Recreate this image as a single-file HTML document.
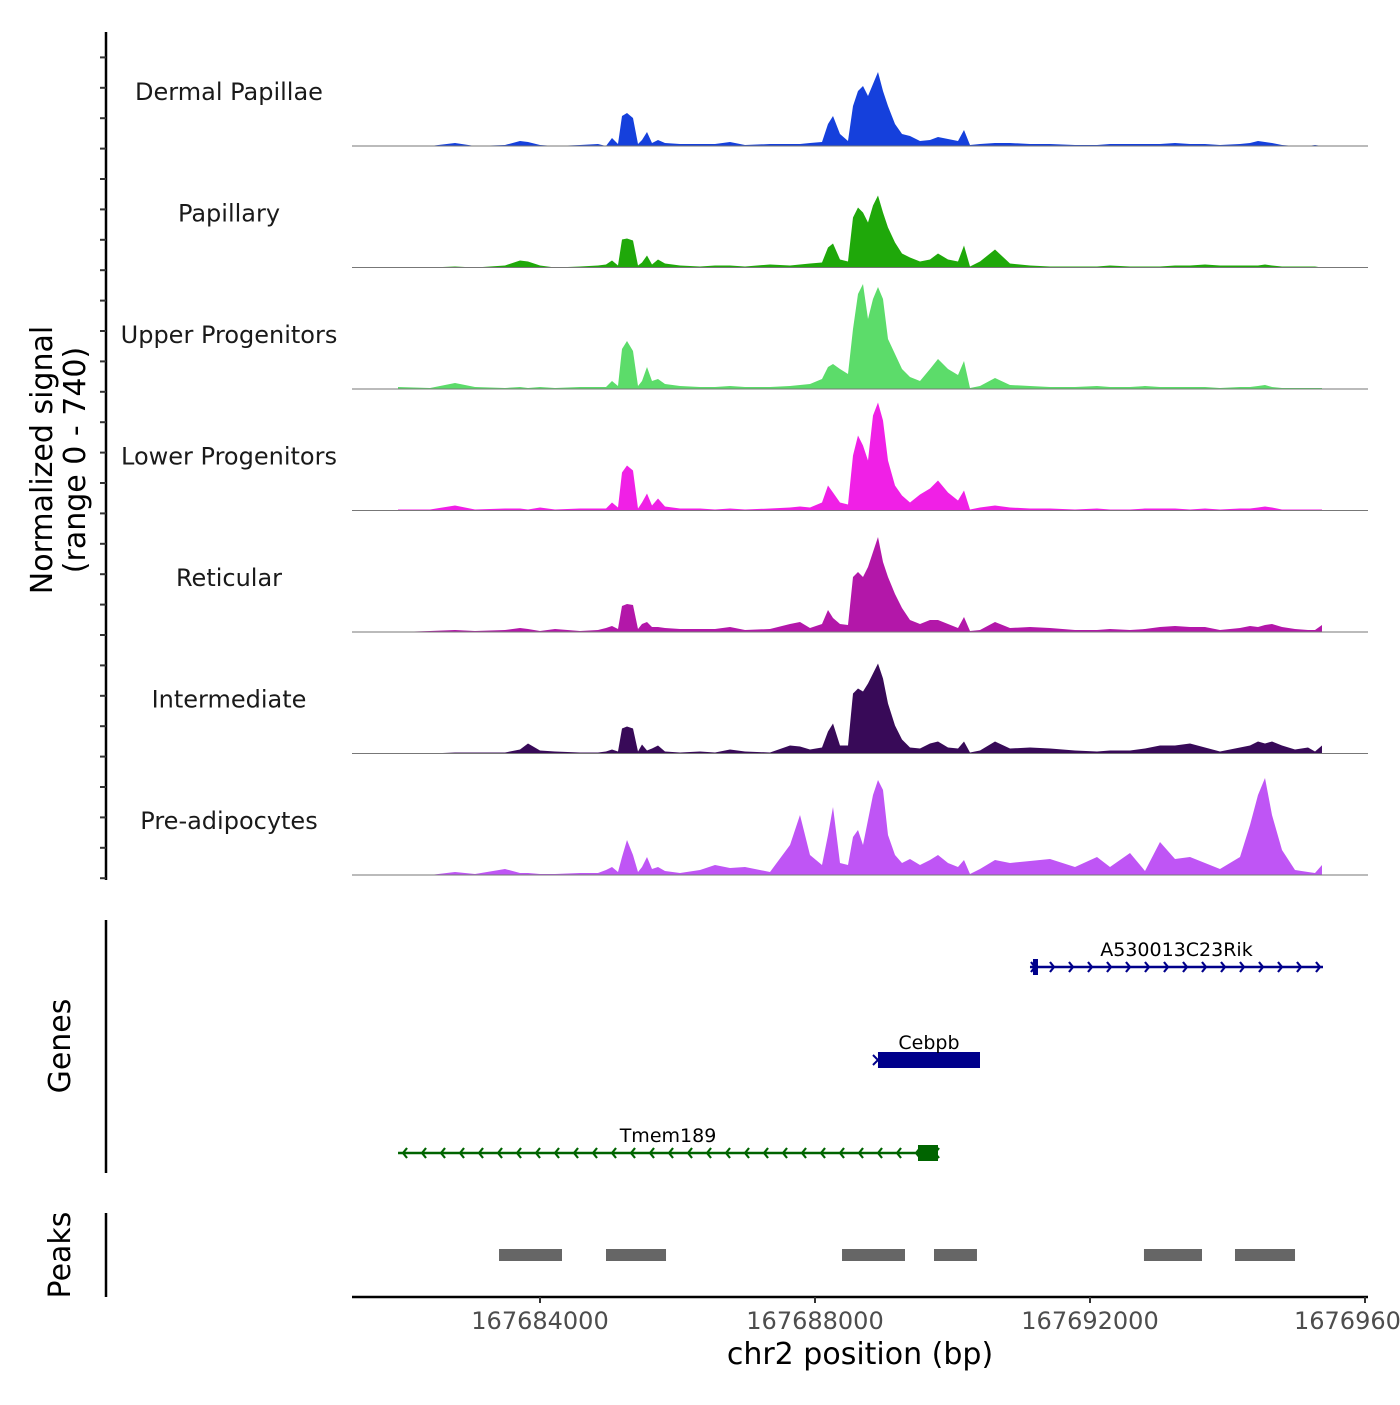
<!DOCTYPE html>
<html><head><meta charset="utf-8">
<style>
body{margin:0;background:#fff;}
svg text{font-family:"DejaVu Sans","Liberation Sans",sans-serif;}
</style></head>
<body>
<svg id="chart" xmlns="http://www.w3.org/2000/svg" width="1400" height="1400" viewBox="0 0 1400 1400">
<rect width="1400" height="1400" fill="#fff"/>
<g id="tracks"></g>
<g id="leftaxis"></g>
<text transform="translate(52,460) rotate(-90)" text-anchor="middle" font-size="30" fill="#000">Normalized signal</text>
<text transform="translate(85,460) rotate(-90)" text-anchor="middle" font-size="30" fill="#000">(range 0 - 740)</text>
<g id="genes"></g>
<line x1="106" y1="920" x2="106" y2="1173" stroke="#000" stroke-width="2.5"/>
<text transform="translate(70,1046) rotate(-90)" text-anchor="middle" font-size="30">Genes</text>
<g id="peaks"></g>
<line x1="106" y1="1213" x2="106" y2="1297" stroke="#000" stroke-width="2.5"/>
<text transform="translate(70,1255) rotate(-90)" text-anchor="middle" font-size="30">Peaks</text>
<g id="xaxis"></g>
<text x="860" y="1364" text-anchor="middle" font-size="30">chr2 position (bp)</text>
</svg>
<script>
const trackNames = ["Dermal Papillae","Papillary","Upper Progenitors","Lower Progenitors","Reticular","Intermediate","Pre-adipocytes"];
const trackColors = ["#1540dc","#1fa80a","#5cdc6a","#f020e6","#b317a9","#380a58","#bf55f5"];
const positions = [167681935,167682400,167682764,167683055,167683491,167683709,167683825,167684000,167684218,167684582,167684844,167684960,167685047,167685135,167685193,167685265,167685353,167685425,167685484,167685556,167685629,167685716,167685818,167686036,167686327,167686545,167686764,167686982,167687345,167687636,167687782,167687927,167688102,167688189,167688262,167688364,167688480,167688553,167688625,167688698,167688771,167688844,167688916,167688989,167689062,167689163,167689265,167689382,167689527,167689673,167689789,167689934,167690080,167690167,167690254,167690400,167690618,167690836,167691127,167691418,167691782,167692102,167692291,167692582,167692800,167693018,167693236,167693455,167693673,167693891,167694182,167694327,167694444,167694545,167694647,167694793,167694982,167695171,167695273,167695374];
const dermalPapillae = [0,0,3,0,1,5,4,1,0,1,2,0,8,2,30,33,28,2,6,14,3,6,3,2,2,2,4,1,2,2,2,3,4,22,30,12,5,40,55,60,50,62,74,55,40,22,12,10,5,6,9,7,5,16,1,2,3,3,2,2,1,1,2,2,2,2,3,2,2,1,2,3,5,4,3,1,0,0,1,0];
const papillary = [0,0,1,0,2,7,6,2,0,1,2,3,7,2,28,29,27,2,5,12,3,8,4,2,1,2,2,1,3,2,3,4,5,20,24,8,6,50,60,55,45,62,72,55,40,25,14,10,6,8,14,8,6,22,1,6,18,4,2,1,1,1,2,1,1,1,2,2,3,2,2,2,2,3,2,1,1,1,1,0];
const upperProgenitors = [2,1,6,2,1,2,1,2,1,2,2,2,8,3,40,48,38,3,8,22,8,10,5,3,2,2,3,2,2,3,4,5,10,22,25,20,15,60,95,105,70,90,102,90,50,35,20,12,8,20,30,20,14,28,1,3,11,4,3,2,2,3,2,2,3,2,2,2,2,1,2,2,3,4,2,1,1,1,1,1];
const lowerProgenitors = [1,1,5,1,2,2,1,3,1,2,2,2,8,3,38,45,40,2,8,17,5,12,4,2,2,1,2,1,2,3,4,3,8,25,18,8,6,55,75,65,50,95,108,90,50,25,15,8,16,22,30,18,10,20,1,3,5,3,2,2,1,2,1,1,2,2,2,1,2,1,2,2,3,4,3,1,1,1,1,1];
const reticular = [0,1,2,1,2,4,3,1,3,1,2,4,6,3,26,28,27,3,8,10,5,5,4,3,3,3,5,2,3,8,10,4,8,22,14,8,7,55,60,55,65,80,95,70,55,38,24,12,8,12,12,8,4,15,1,2,10,4,5,4,2,2,3,2,3,5,6,5,5,2,4,6,5,7,8,5,3,2,2,7];
const intermediate = [0,0,1,1,1,4,10,3,2,1,1,2,4,2,25,27,25,2,9,3,5,8,2,1,2,1,4,2,1,8,7,4,6,22,30,8,8,60,65,62,70,80,90,75,50,28,14,6,5,10,12,6,5,12,1,3,12,5,6,5,3,2,3,3,5,8,8,10,6,2,6,8,12,10,12,8,4,6,2,8];
const preAdipocytes = [0,0,3,1,6,2,2,1,1,2,2,5,8,3,18,35,20,3,8,18,6,8,4,2,5,10,7,8,3,30,60,20,10,40,68,12,10,38,45,30,55,80,95,85,40,20,12,16,10,15,20,12,8,15,1,6,15,12,14,16,8,18,8,22,4,33,16,18,12,6,18,50,80,97,60,25,5,3,2,10];
const seriesValues = [dermalPapillae,papillary,upperProgenitors,lowerProgenitors,reticular,intermediate,preAdipocytes];
const xTickValues = [167684000,167688000,167692000,167696000];
const xTickLabels = ["167684000","167688000","167692000","1676960"];
const peakStarts = [167683404,167684960,167688393,167689731,167692785,167694109];
const peakEnds = [167684320,167685833,167689309,167690356,167693629,167694982];
const geneNames = ["A530013C23Rik","Cebpb","Tmem189"];
const geneStarts = [167691127,167688916,167681935];
const geneEnds = [167695389,167690400,167689789];
const geneStrands = ["+","+","-"];
const geneColors = ["#00008b","#00008b","#006400"];

const NS="http://www.w3.org/2000/svg";
const X = bp => 540 + (bp - 167684000) * 0.06875;
const yMax = 110; // scaled signal units
const trackBase = i => 146 + i * 121.5;
const Y = (v,i) => trackBase(i) - v / yMax * 110;
function mk(tag, attrs, parent){const e=document.createElementNS(NS,tag);for(const k in attrs)e.setAttribute(k,attrs[k]);parent.appendChild(e);return e;}

const tracks=document.getElementById('tracks');
seriesValues.forEach((vals,i)=>{
  let d=`M${X(positions[0])},${trackBase(i)}`;
  vals.forEach((v,j)=>{d+=` L${X(positions[j]).toFixed(1)},${Y(v,i).toFixed(1)}`;});
  d+=` L${X(positions[positions.length-1])},${trackBase(i)} Z`;
  const p=mk('path',{d:d,fill:trackColors[i]},tracks);
  
  
  const l=mk('line',{x1:352,x2:1368,y1:trackBase(i),y2:trackBase(i),stroke:'#777','stroke-width':1},tracks);
  
  
  const t=mk('text',{x:229,y:trackBase(i)-46,'text-anchor':'middle','font-size':24,fill:'#1a1a1a'},tracks);
  t.textContent=trackNames[i];
  
  
});

const la=document.getElementById('leftaxis');
mk('line',{x1:106,y1:32,x2:106,y2:880,stroke:'#000','stroke-width':2.5},la);
for(let k=0;k<29;k++){
  const y=27+k*30.4;
  if(y<32||y>880)continue;
  const tk=mk('line',{x1:100,x2:106,y1:y,y2:y,stroke:'#333','stroke-width':2},la);
  
  
}

const genes=document.getElementById('genes');
const geneY=[967,1060,1153];
geneNames.forEach((n,i)=>{
  const x1=X(geneStarts[i]),x2=X(geneEnds[i]),y=geneY[i],c=geneColors[i];
  const g=mk('g',{},genes);
  
  
  mk('line',{x1:x1,x2:x2,y1:y,y2:y,stroke:c,'stroke-width':2.5},g);
  if(i===1){
    mk('rect',{x:x1,y:y-8,width:x2-x1,height:16,fill:c},g);
    mk('path',{d:`M${x1-5},${y-5} L${x1},${y} L${x1-5},${y+5}`,stroke:c,fill:'none','stroke-width':2},g);
  } else {
    const step=19;
    for(let x=x1+5;x<=x2;x+=step){
      const dd=geneStrands[i]==='+'?`M${x-4},${y-5} L${x},${y} L${x-4},${y+5}`:`M${x+4},${y-5} L${x},${y} L${x+4},${y+5}`;
      mk('path',{d:dd,stroke:c,fill:'none','stroke-width':2.2},g);
    }
    if(i===0) mk('rect',{x:x1+3,y:y-8,width:5,height:16,fill:c},g);
    if(i===2) mk('rect',{x:X(167689498),y:y-8,width:x2-X(167689498),height:16,fill:c},g);
  }
  const t=mk('text',{x:(i===2?668:(x1+x2)/2),y:y-11,'text-anchor':'middle','font-size':19,fill:'#000'},g);
  t.textContent=n;
});

const peaks=document.getElementById('peaks');
peakStarts.forEach((s,i)=>{
  const r=mk('rect',{x:X(s),y:1249,width:X(peakEnds[i])-X(s),height:12,fill:'#666'},peaks);
  
  
});

const xa=document.getElementById('xaxis');
mk('line',{x1:352,x2:1368,y1:1297,y2:1297,stroke:'#000','stroke-width':2.5},xa);
xTickValues.forEach((v,i)=>{
  const x=X(v);
  const tk=mk('line',{x1:x,x2:x,y1:1297,y2:1303,stroke:'#333','stroke-width':2},xa);
  
  
  const t=mk('text',{x:x,y:1329,'text-anchor':i===3?'start':'middle','font-size':24,fill:'#4d4d4d'},xa);
  if(i===3)t.setAttribute('x',x-71);
  t.textContent=xTickLabels[i];
  
  
});
</script>
</body></html>
